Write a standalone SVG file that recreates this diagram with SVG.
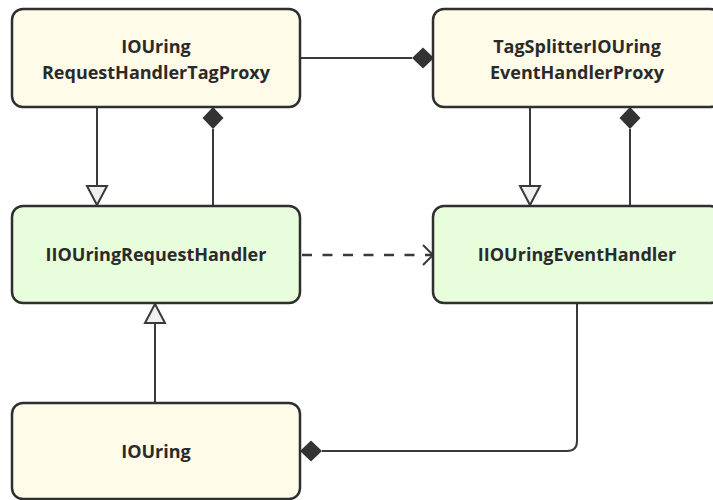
<svg xmlns="http://www.w3.org/2000/svg" width="713" height="500" viewBox="0 0 713 500">
  <style>
    .box { stroke: #2f2f2f; stroke-width: 2.5; }
    .impl { fill: #fefbe8; }
    .iface { fill: #e7fddc; }
    .label { font-family: "Open Sans", "Liberation Sans", sans-serif; font-weight: 700; font-size: 18px; fill: #2a2a2a; text-anchor: middle; }
    .edge { fill: none; stroke: #3a3a3a; stroke-width: 2; }
    .dash { stroke-dasharray: 10 10.5; stroke-width: 2.4; }
    .diamond { fill: #333333; stroke: none; }
    .tri { fill: #f0f0f0; stroke: #3a3a3a; stroke-width: 2; stroke-linejoin: miter; }
  </style>

  <g id="connectors">
    <!-- proxy -> IIOUringRequestHandler (generalization) -->
    <path class="edge" d="M97 107 V186"/>
    <path class="tri" d="M87 186 H107 L97 205 Z"/>
    <!-- proxy owns IIOUringRequestHandler (composition) -->
    <path class="edge" d="M213 206 V129"/>
    <path class="diamond" d="M213 107 L223.5 118 L213 129 L202.5 118 Z"/>
    <!-- proxy owns TagSplitter proxy -->
    <path class="edge" d="M300 58 H412"/>
    <path class="diamond" d="M434 58 L423 68.5 L412 58 L423 47.5 Z"/>
    <!-- TagSplitter -> IIOUringEventHandler (generalization) -->
    <path class="edge" d="M530 107 V186"/>
    <path class="tri" d="M520 186 H540 L530 205 Z"/>
    <!-- TagSplitter owns IIOUringEventHandler -->
    <path class="edge" d="M630 206 V129"/>
    <path class="diamond" d="M630 107 L640.5 118 L630 129 L619.5 118 Z"/>
    <!-- request handler uses event handler (dependency) -->
    <path class="edge dash" d="M302 255 H432"/>
    <path class="edge" d="M423 245 L433 255 L423 265" stroke-width="2.4"/>
    <!-- IOUring -> IIOUringRequestHandler (generalization) -->
    <path class="edge" d="M155 402 V323"/>
    <path class="tri" d="M145 323 H165 L155 304 Z"/>
    <!-- IOUring owns IIOUringEventHandler -->
    <path class="edge" d="M577 303 V441 Q577 451 567 451 H322"/>
    <path class="diamond" d="M300 451 L311 440.5 L322 451 L311 461.5 Z"/>
  </g>

  <g id="IOUringRequestHandlerTagProxy">
    <rect class="box impl" x="12" y="9" width="288" height="98" rx="11"/>
    <text class="label" x="156" y="53">IOUring</text>
    <text class="label" x="156" y="79">RequestHandlerTagProxy</text>
  </g>

  <g id="TagSplitterIOUringEventHandlerProxy">
    <rect class="box impl" x="433" y="9" width="288" height="98" rx="11"/>
    <text class="label" x="577" y="53">TagSplitterIOUring</text>
    <text class="label" x="577" y="79">EventHandlerProxy</text>
  </g>

  <g id="IIOUringRequestHandler">
    <rect class="box iface" x="12" y="206" width="288" height="97" rx="11"/>
    <text class="label" x="156" y="261">IIOUringRequestHandler</text>
  </g>

  <g id="IIOUringEventHandler">
    <rect class="box iface" x="433" y="206" width="288" height="97" rx="11"/>
    <text class="label" x="577" y="261">IIOUringEventHandler</text>
  </g>

  <g id="IOUring">
    <rect class="box impl" x="12" y="403" width="288" height="96" rx="11"/>
    <text class="label" x="156" y="458">IOUring</text>
  </g>
</svg>
